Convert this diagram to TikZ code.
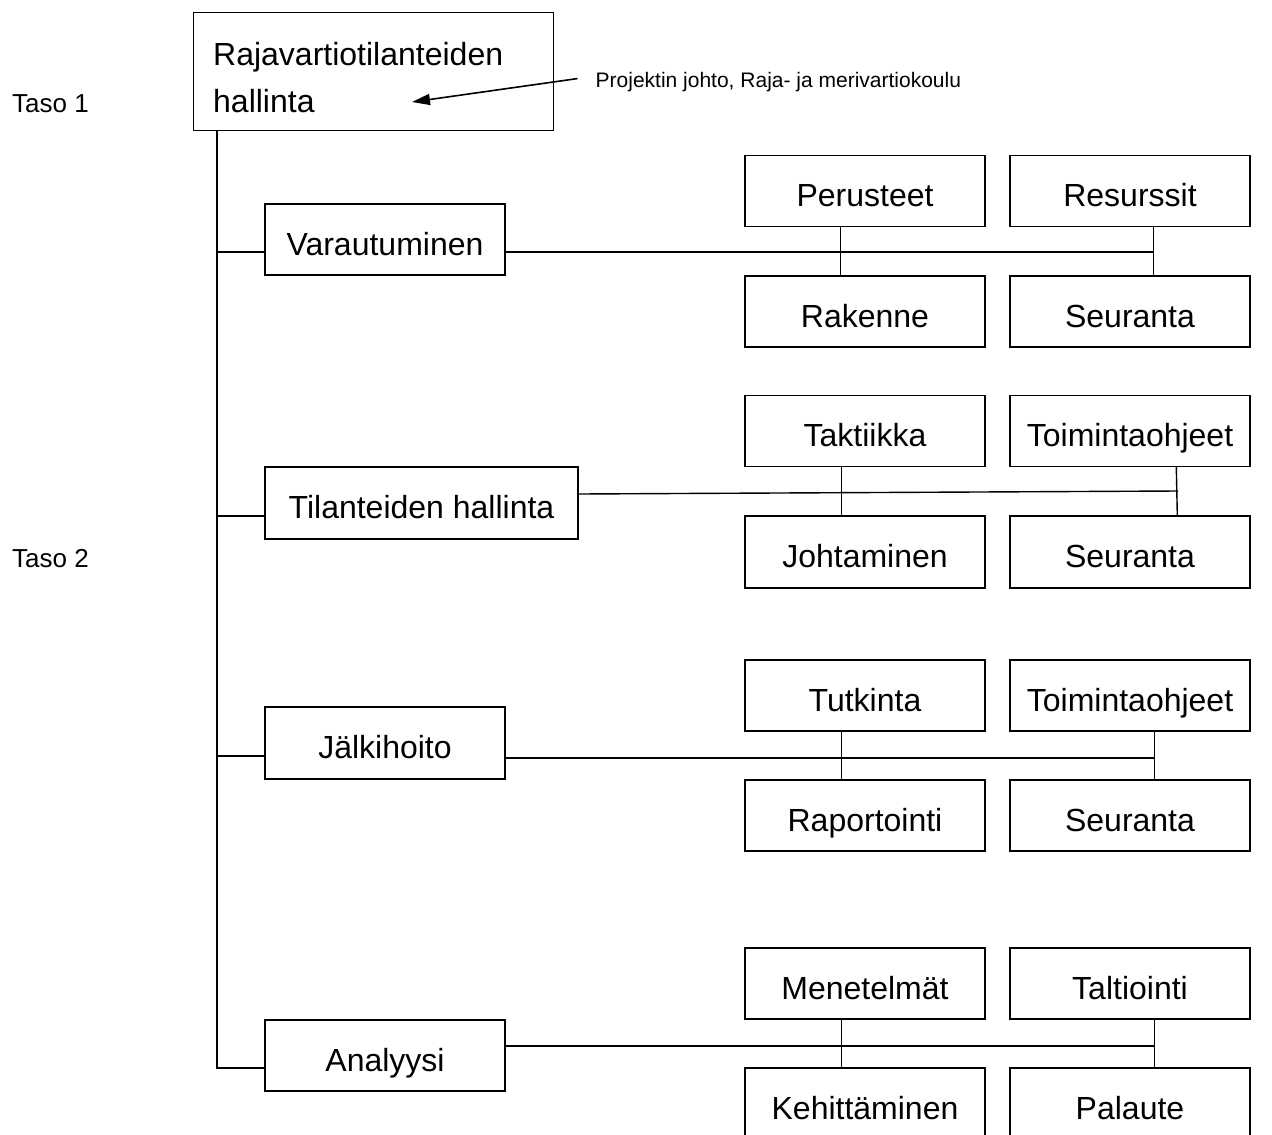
\documentclass[tikz,border=0pt]{standalone}
\usepackage{fontspec}
\setmainfont{Liberation Sans}
\usetikzlibrary{arrows.meta,calc}

\tikzset{
  box/.style={draw=black, line width=1.4pt, rectangle, inner sep=0pt,
    minimum width=240pt, minimum height=71pt,
    font=\fontsize{32}{38}\selectfont, text height=31pt, text depth=0pt},
  conn/.style={draw=black, line width=1.4pt},
  lvl/.style={anchor=base west, inner sep=0pt, font=\fontsize{26}{30}\selectfont},
  plain/.style={anchor=base west, inner sep=0pt, font=\fontsize{32}{38}\selectfont},
  note/.style={anchor=base west, inner sep=0pt, font=\fontsize{21}{25}\selectfont},
  pointer/.style={draw=black, line width=1.6pt, -{Triangle[length=18pt,width=11pt]}}
}

\begin{document}
\begin{tikzpicture}[x=1pt, y=-1pt]
\useasboundingbox (0,0) rectangle (1272,1135);
\clip (0,0) rectangle (1272,1135);
\fill[white] (0,0) rectangle (1272,1135);

% level labels
\node[lvl] (taso1) at (12,112) {Taso 1};
\node[lvl] (taso2) at (12,567) {Taso 2};

% top level
\node[box, anchor=north west, minimum width=360pt, minimum height=118pt] (top) at (193,12) {};
\node[plain] (toptext1) at (213,65) {Rajavartiotilanteiden};
\node[plain] (toptext2) at (213,112) {hallinta};

% note with pointer
\node[note] (owner) at (595.5,87) {Projektin johto, Raja- ja merivartiokoulu};
\coordinate (ptip) at (412,102);
\draw[pointer] ([xshift=-18pt,yshift=3pt]owner.west) -- (ptip);

% second level
\node[box] (var) at (385,239.5) {Varautuminen};
\node[box, minimum width=313pt, minimum height=72pt] (til) at (421.5,503) {Tilanteiden hallinta};
\node[box, minimum height=72pt] (jal) at (385,743) {Jälkihoito};
\node[box] (ana) at (385,1055.5) {Analyysi};

% trunk and branches
\coordinate (trunk) at ([xshift=24pt]top.south west);
\coordinate (bvar) at ($(var.west)+(0,12.5)$);
\coordinate (btil) at ($(til.west)+(0,13)$);
\coordinate (bjal) at ($(jal.west)+(0,13)$);
\coordinate (bana) at ($(ana.west)+(0,12.5)$);
\draw[conn] (trunk) |- (bana);
\draw[conn] (trunk |- bvar) -- (bvar);
\draw[conn] (trunk |- btil) -- (btil);
\draw[conn] (trunk |- bjal) -- (bjal);

% group: Varautuminen
\node[box] (per) at (865,191) {Perusteet};
\node[box] (res) at (1130,191) {Resurssit};
\node[box] (rak) at (865,311.5) {Rakenne};
\node[box] (seu1) at (1130,311.5) {Seuranta};
\draw[conn] ([xshift=96pt]per.south west) -- ([xshift=96pt]rak.north west);
\draw[conn] ([xshift=144pt]res.south west) -- ([xshift=144pt]seu1.north west);
\coordinate (j1) at (1154,252);
\draw[conn] ($(var.east)+(0,12.5)$) -- (j1);

% group: Tilanteiden hallinta
\node[box] (tak) at (865,431) {Taktiikka};
\node[box] (toi1) at (1130,431) {Toimintaohjeet};
\node[box, minimum height=72pt] (joh) at (865,552) {Johtaminen};
\node[box, minimum height=72pt] (seu2) at (1130,552) {Seuranta};
\draw[conn] ([xshift=97pt]tak.south west) -- ([xshift=97pt]joh.north west);
\draw[conn] ([xshift=167pt]toi1.south west) -- ([xshift=168pt]seu2.north west);
\coordinate (j2) at (1178,491);
\draw[conn] ($(til.east)+(0,-9)$) -- (j2);

% group: Jälkihoito
\node[box] (tut) at (865,695.5) {Tutkinta};
\node[box] (toi2) at (1130,695.5) {Toimintaohjeet};
\node[box] (rap) at (865,815.5) {Raportointi};
\node[box] (seu3) at (1130,815.5) {Seuranta};
\draw[conn] ([xshift=97pt]tut.south west) -- ([xshift=97pt]rap.north west);
\draw[conn] ([xshift=145pt]toi2.south west) -- ([xshift=145pt]seu3.north west);
\coordinate (j3) at (1155,758);
\draw[conn] ($(jal.east)+(0,15)$) -- (j3);

% group: Analyysi
\node[box] (men) at (865,983.5) {Menetelmät};
\node[box] (tal) at (1130,983.5) {Taltiointi};
\node[box] (keh) at (865,1103.5) {Kehittäminen};
\node[box] (pal) at (1130,1103.5) {Palaute};
\draw[conn] ([xshift=97pt]men.south west) -- ([xshift=97pt]keh.north west);
\draw[conn] ([xshift=145pt]tal.south west) -- ([xshift=145pt]pal.north west);
\coordinate (j4) at (1155,1046);
\draw[conn] ($(ana.east)+(0,-9.5)$) -- (j4);
\end{tikzpicture}
\end{document}
